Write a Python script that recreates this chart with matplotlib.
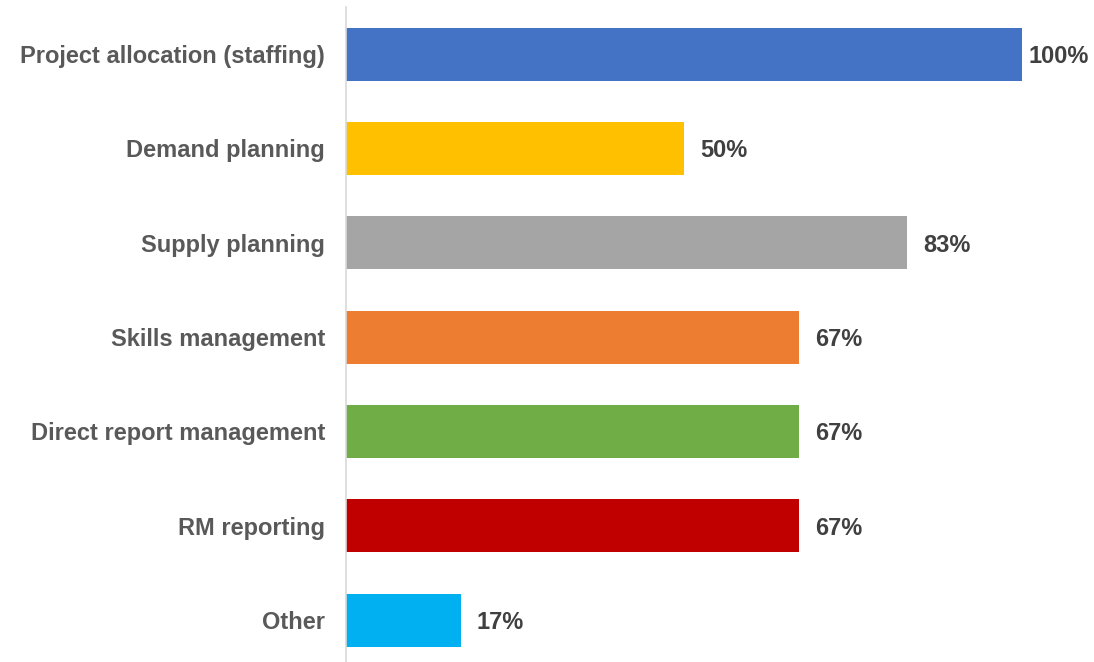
import matplotlib

matplotlib.use("Agg")
import matplotlib.pyplot as plt

categories = [
    "Project allocation (staffing)",
    "Demand planning",
    "Supply planning",
    "Skills management",
    "Direct report management",
    "RM reporting",
    "Other",
]
values = [100, 50, 83, 67, 67, 67, 17]
colors = ["#4472C4", "#FFC000", "#A5A5A5", "#ED7D31", "#70AD47", "#C00000", "#00B0F0"]

CAT_TEXT = "#595959"
VAL_TEXT = "#404040"
plt.rcParams["font.family"] = ["Liberation Sans", "DejaVu Sans"]

W, H = 1094, 662
fig = plt.figure(figsize=(W / 100, H / 100), dpi=100)
ax = fig.add_axes([346 / W, 0, 748 / W, 655 / H])

y = list(range(len(categories)))
ax.barh(y, values, height=0.56, color=colors)
ax.set_xlim(0, 100 * 748 / 676)
ax.set_ylim(-0.5 + 655 / 94.33, -0.5)

for yi, v in zip(y, values):
    # Excel pulls the widest label back in so it stays inside the frame
    dx = 4.5 if v == max(values) else 11.5
    ax.annotate(f"{v}%", (v, yi), xytext=(dx, 0), textcoords="offset points",
                va="center_baseline", ha="left", fontsize=17, fontweight="bold",
                color=VAL_TEXT)

ax.set_yticks(y)
ax.set_yticklabels(categories, fontsize=17, fontweight="bold", color=CAT_TEXT,
                   va="center_baseline")
ax.tick_params(axis="y", length=0, pad=15)
ax.set_xticks([])
for s in ("top", "right", "bottom"):
    ax.spines[s].set_visible(False)
ax.spines["left"].set_color("#D9D9D9")
ax.spines["left"].set_linewidth(1.2)

fig.savefig("out.png", dpi=100)
